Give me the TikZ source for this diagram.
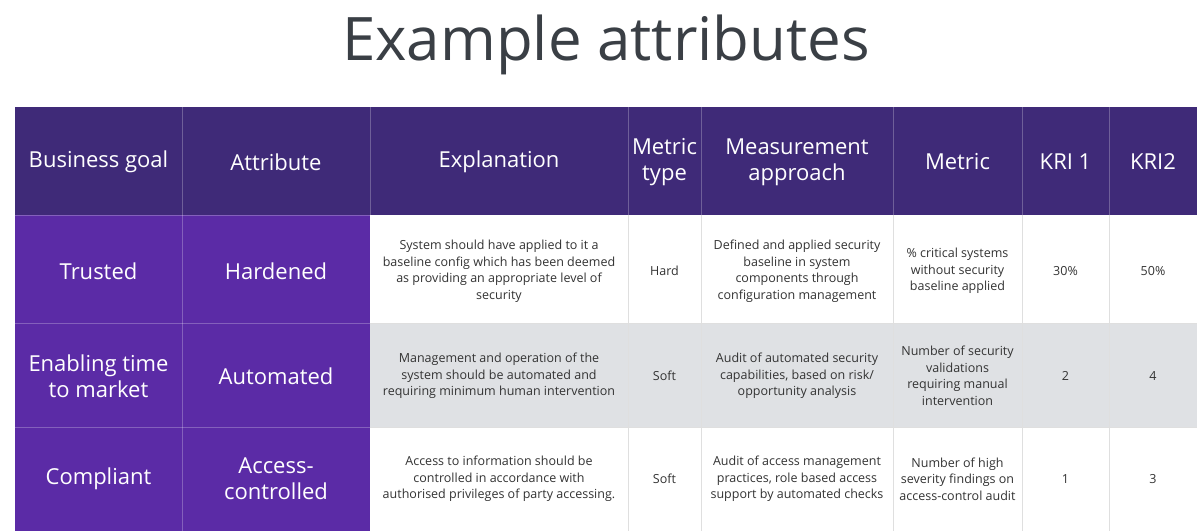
\documentclass[tikz,border=0pt]{standalone}
\usepackage{fontspec}
\setmainfont{Open Sans}
\definecolor{hdr}{HTML}{3F2A78}
\definecolor{purp}{HTML}{5B2BA6}
\definecolor{rowg}{HTML}{DFE1E4}
\definecolor{txt}{HTML}{333333}
\definecolor{ttl}{HTML}{3A3F45}
\begin{document}
\begin{tikzpicture}[x=1pt,y=-1pt,
  hd/.style={text=white,font=\fontsize{22}{26}\selectfont,align=center},
  pc/.style={text=white,font=\fontsize{22}{26}\selectfont,align=center},
  bc/.style={text=txt,font=\fontsize{12.5}{16.5}\selectfont,align=center},
  grid/.style={draw=white!80!gray,line width=0.5pt}]
\useasboundingbox (0,0) rectangle (1200,531);
\fill[white] (0,0) rectangle (1200,531);
\node[text=ttl,font=\fontsize{60}{70}\selectfont] (title) at (606,45) {Example attributes};
% backgrounds
\fill[hdr] (15,107) rectangle (1197,215);
\fill[purp] (15,215) rectangle (370,531);
\fill[rowg] (370,323) rectangle (1197,427);
% grid lines
\foreach \x in {182,370,628,701,893,1022,1109}{
  \draw[draw=white,opacity=0.25,line width=0.6pt] (\x,107) -- (\x,215);}
\draw[draw=white,opacity=0.25,line width=0.6pt] (182,215) -- (182,531);
\foreach \y in {215,323,427}{
  \draw[draw=white,opacity=0.25,line width=0.6pt] (15,\y) -- (370,\y);}
\foreach \x in {628,701,893,1022,1109}{
  \draw[draw=gray!25,line width=0.5pt] (\x,215) -- (\x,531);}
\foreach \y in {323,427}{
  \draw[draw=gray!25,line width=0.5pt] (370,\y) -- (1197,\y);}
% header
\node[hd] (h1) at (98.5,162) {Business goal};
\node[hd] (h2) at (276,162) {Attribute};
\node[hd] (h3) at (499,162) {Explanation};
\node[hd] (h4) at (664.5,162) {Metric\\type};
\node[hd] (h5) at (797,162) {Measurement\\approach};
\node[hd] (h6) at (957.5,162) {Metric};
\node[hd] (h7) at (1065.5,162) {KRI 1};
\node[hd] (h8) at (1153,162) {KRI2};
% row 1
\node[pc] (a1) at (98.5,271) {Trusted};
\node[pc] (b1) at (276,271) {Hardened};
\node[bc] (c1) at (499,271) {System should have applied to it a\\baseline config which has been deemed\\as providing an appropriate level of\\security};
\node[bc] (d1) at (664.5,271) {Hard};
\node[bc] (e1) at (797,271) {Defined and applied security\\baseline in system\\components through\\configuration management};
\node[bc] (f1) at (957.5,271) {\% critical systems\\without security\\baseline applied};
\node[bc] (g1) at (1065.5,271) {30\%};
\node[bc] (k1) at (1153,271) {50\%};
% row 2
\node[pc] (a2) at (98.5,376) {Enabling time\\to market};
\node[pc] (b2) at (276,376) {Automated};
\node[bc] (c2) at (499,376) {Management and operation of the\\system should be automated and\\requiring minimum human intervention};
\node[bc] (d2) at (664.5,376) {Soft};
\node[bc] (e2) at (797,376) {Audit of automated security\\capabilities, based on risk/\\opportunity analysis};
\node[bc] (f2) at (957.5,376) {Number of security\\validations\\requiring manual\\intervention};
\node[bc] (g2) at (1065.5,376) {2};
\node[bc] (k2) at (1153,376) {4};
% row 3
\node[pc] (a3) at (98.5,479) {Compliant};
\node[pc] (b3) at (276,479) {Access-\\controlled};
\node[bc] (c3) at (499,479) {Access to information should be\\controlled in accordance with\\authorised privileges of party accessing.};
\node[bc] (d3) at (664.5,479) {Soft};
\node[bc] (e3) at (797,479) {Audit of access management\\practices, role based access\\support by automated checks};
\node[bc] (f3) at (957.5,479) {Number of high\\severity findings on\\access-control audit};
\node[bc] (g3) at (1065.5,479) {1};
\node[bc] (k3) at (1153,479) {3};
\end{tikzpicture}
\end{document}
